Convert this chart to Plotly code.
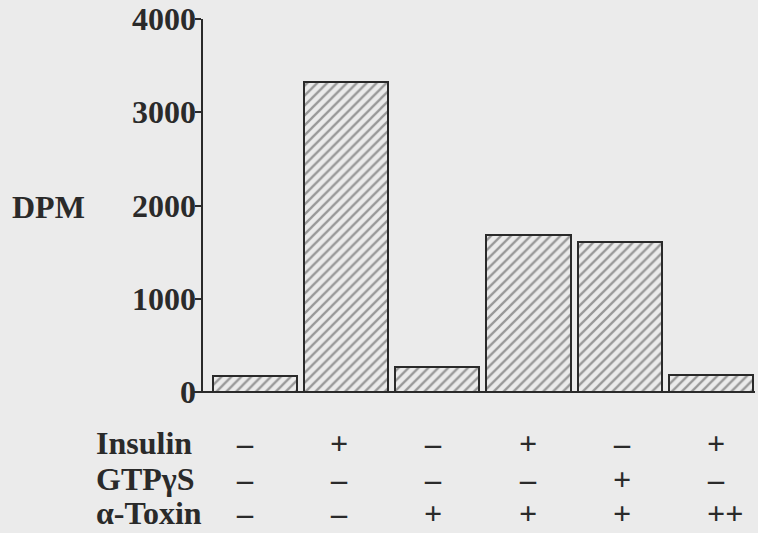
import plotly.graph_objects as go

# ---- data ----
conditions = ["1", "2", "3", "4", "5", "6"]
dpm_values = [170, 3320, 265, 1685, 1612, 185]
row_labels = ["Insulin", "GTPγS", "α-Toxin"]
insulin = ["–", "+", "–", "+", "–", "+"]
gtpgs = ["–", "–", "–", "–", "+", "–"]
toxin = ["–", "–", "+", "+", "+", "++"]
y_ticks = [0, 1000, 2000, 3000, 4000]
y_label = "DPM"

# ---- layout geometry (pixels) ----
W, H = 758, 533
L, R, T, B = 203, 3, 19, 141
PW, PH = W - L - R, H - T - B

def px(xp):
    return (xp - L) / PW

def py(yp):
    return (H - B - yp) / PH

FONT = "Liberation Serif"
INK = "#2a2a2a"
BG = "#ebebeb"

x_idx = list(range(len(conditions)))

fig = go.Figure()
fig.add_trace(go.Bar(
    x=x_idx, y=dpm_values, width=0.92,
    marker=dict(
        color=BG,
        line=dict(color=INK, width=2),
        pattern=dict(shape="/", size=7, solidity=0.33, fgcolor="#444444", bgcolor=BG),
    ),
    hoverinfo="skip",
))

fig.update_layout(
    width=W, height=H,
    margin=dict(l=L, r=R, t=T, b=B),
    paper_bgcolor=BG, plot_bgcolor=BG,
    showlegend=False,
    bargap=0,
    xaxis=dict(range=[-0.564, 5.48], showgrid=False, zeroline=False, showticklabels=False,
               ticks="", showline=False, fixedrange=True),
    yaxis=dict(range=[0, 4000], showgrid=False, zeroline=False, showline=True,
               linecolor=INK, linewidth=2, ticks="outside", ticklen=6, tickwidth=2,
               tickcolor=INK, tickvals=y_ticks, showticklabels=False),
)

# baseline extending slightly left of the y axis
fig.add_shape(type="line", xref="paper", yref="paper", x0=px(194), x1=px(755), y0=0, y1=0,
              line=dict(color=INK, width=2))

fnt = dict(family=FONT, size=32, color=INK, weight="bold")

# y tick labels (set close to the tick marks)
for v in y_ticks:
    fig.add_annotation(text=str(v), xref="paper", yref="y", x=px(198), y=v,
                       xanchor="right", yanchor="middle", showarrow=False, font=fnt)

fig.add_annotation(text=y_label, xref="paper", yref="paper", x=px(48), y=py(207),
                   xanchor="center", yanchor="middle", showarrow=False, font=fnt)

rows = [insulin, gtpgs, toxin]
row_y = [443, 479, 513]
for lab, vals, yy in zip(row_labels, rows, row_y):
    fig.add_annotation(text=lab, xref="paper", yref="paper", x=px(95), y=py(yy),
                       xanchor="left", yanchor="middle", showarrow=False, font=fnt,
                       borderpad=0)
    for i, s in enumerate(vals):
        xc = 245 + 94.2 * i
        if s == "++":
            xc += 9
        fig.add_annotation(text=s, xref="paper", yref="paper", x=px(xc), y=py(yy),
                           xanchor="center", yanchor="middle", showarrow=False, font=fnt,
                           borderpad=0)

fig.write_html("out.html")
